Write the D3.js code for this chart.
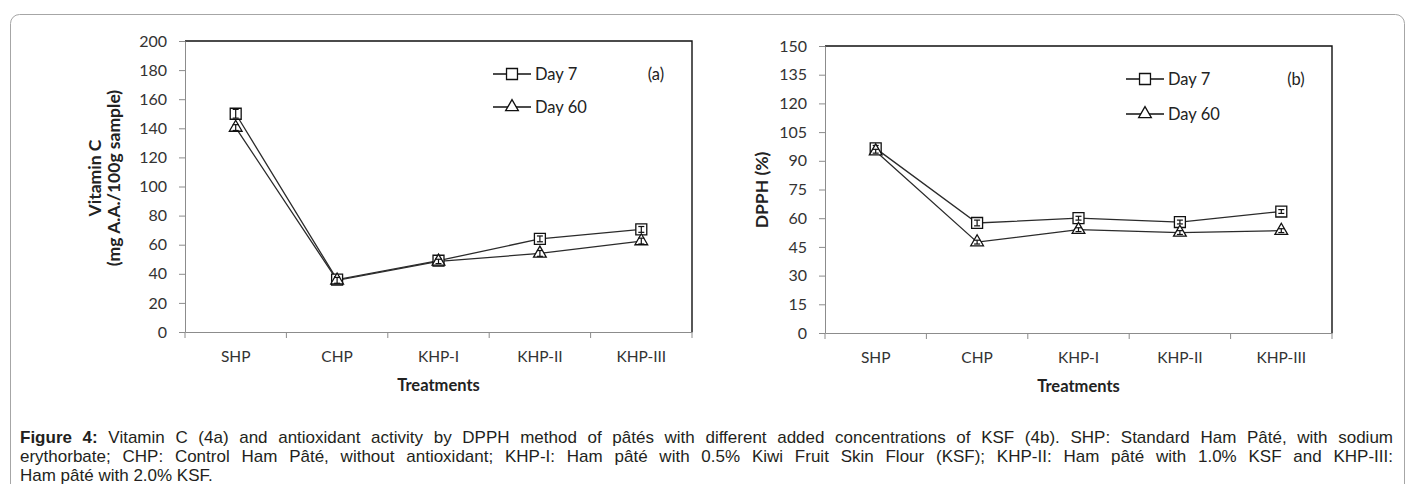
<!DOCTYPE html>
<html>
<head>
<meta charset="utf-8">
<script src="https://cdn.jsdelivr.net/npm/d3@7"></script>
<style>
body { margin: 0; background: #fff; width: 1414px; height: 484px; overflow: hidden; position: relative; }
svg { position: absolute; left: 0; top: 0; }
.cap { position: absolute; left: 20px; top: 427.5px; width: 1373px; font-family: "Liberation Sans", Arial, sans-serif;
  font-size: 17px; line-height: 19px; color: #231f20; }
.cap div { text-align: justify; text-align-last: justify; white-space: nowrap; }
.cap div.last { text-align-last: left; }
</style>
</head>
<body>
<svg id="fig" width="1414" height="484"></svg>
<div class="cap" id="cap">
  <div><b>Figure 4:</b> Vitamin C (4a) and antioxidant activity by DPPH method of pâtés with different added concentrations of KSF (4b). SHP: Standard Ham Pâté, with sodium</div>
  <div>erythorbate; CHP: Control Ham Pâté, without antioxidant; KHP-I: Ham pâté with 0.5% Kiwi Fruit Skin Flour (KSF); KHP-II: Ham pâté with 1.0% KSF and KHP-III:</div>
  <div class="last">Ham pâté with 2.0% KSF.</div>
</div>
<script>
// treatments on the x axis
var categories = ["SHP", "CHP", "KHP-I", "KHP-II", "KHP-III"];
var seriesNames = ["Day 7", "Day 60"];

// (a) vitamin C, mg A.A./100g sample
var vitC_day7 = [150, 36, 49, 64, 70.5];
var vitC_day60 = [140.5, 35.5, 48.5, 54, 62.5];
var vitC_err7 = [3, 2, 1.5, 2, 2];
var vitC_err60 = [2, 2, 1.5, 2, 2];
var vitC_ticks = [0, 20, 40, 60, 80, 100, 120, 140, 160, 180, 200];

// (b) DPPH %
var dpph_day7 = [96.5, 57.5, 60, 58, 63.5];
var dpph_day60 = [95, 47.5, 54, 52.5, 53.5];
var dpph_err7 = [1.5, 1.5, 1, 1, 1];
var dpph_err60 = [1, 1, 1, 1, 1];
var dpph_ticks = [0, 15, 30, 45, 60, 75, 90, 105, 120, 135, 150];

var font = "Lato, 'Open Sans', sans-serif";
var svg = d3.select("#fig");

// outer frame
svg.append("rect")
  .attr("x", 10.5).attr("y", 14.5).attr("width", 1394).attr("height", 600)
  .attr("rx", 9).attr("fill", "none").attr("stroke", "#a6a6a6").attr("stroke-width", 1);

function drawPanel(o) {
  var g = svg.append("g");
  var x = d3.scaleBand().domain(categories).range([o.left, o.right]);
  var y = d3.scaleLinear().domain([0, o.ticks[o.ticks.length - 1]]).range([o.bottom, o.top]);
  var cx = function(c) { return x(c) + x.bandwidth() / 2; };

  // plot area border (top + right)
  g.append("path")
    .attr("d", "M" + o.left + "," + o.top + "H" + o.right + "V" + o.bottom)
    .attr("fill", "none").attr("stroke", "#111").attr("stroke-width", 1.4);

  // y axis
  var ya = g.append("g").attr("transform", "translate(" + o.left + ",0)")
    .call(d3.axisLeft(y).tickValues(o.ticks).tickSize(6).tickPadding(12).tickSizeOuter(0));
  ya.select(".domain").attr("stroke", "#8c8c8c");
  ya.selectAll(".tick line").attr("stroke", "#8c8c8c");
  ya.selectAll("text").attr("font-family", font).attr("font-size", 16).attr("fill", "#333");

  // x axis labels
  var xa = g.append("g").attr("transform", "translate(0," + o.bottom + ")")
    .call(d3.axisBottom(x).tickSize(0).tickPadding(19).tickSizeOuter(0));
  xa.select(".domain").attr("stroke", "#8c8c8c");
  xa.selectAll("text").attr("font-family", font).attr("font-size", 15.5).attr("fill", "#333");
  // boundary tick marks between categories
  var edges = categories.map(function(c) { return x(c); }).concat([o.right]);
  g.selectAll(".edge").data(edges).enter().append("line")
    .attr("x1", function(d) { return d; }).attr("x2", function(d) { return d; })
    .attr("y1", o.bottom).attr("y2", o.bottom + 6)
    .attr("stroke", "#8c8c8c");

  // axis titles
  g.append("text").attr("x", (o.left + o.right) / 2).attr("y", o.bottom + 59)
    .attr("text-anchor", "middle").attr("font-family", font).attr("font-weight", "bold")
    .attr("font-size", 16.5).attr("fill", "#222").text("Treatments");
  o.ytitle.forEach(function(t, i) {
    g.append("text")
      .attr("transform", "translate(" + o.ytitleX[i] + "," + o.ytitleY + ") rotate(-90)")
      .attr("dy", "0.35em").attr("text-anchor", "middle")
      .attr("font-family", font).attr("font-weight", "bold").attr("font-size", 17.5)
      .attr("fill", "#222").text(t);
  });

  var line = d3.line().x(function(d) { return cx(d.c); }).y(function(d) { return y(d.v); });
  var series = o.series.map(function(s, k) {
    return { name: seriesNames[k], symbol: k === 0 ? d3.symbolSquare : d3.symbolTriangle,
      size: k === 0 ? 120 : 70,
      pts: categories.map(function(c, i) { return { c: c, v: s[i], e: o.err[k][i] }; }) };
  });

  series.forEach(function(s) {
    g.append("path").datum(s.pts).attr("d", line)
      .attr("fill", "none").attr("stroke", "#2b2b2b").attr("stroke-width", 1.3);
  });
  series.forEach(function(s) {
    g.selectAll(null).data(s.pts).enter().append("path")
      .attr("transform", function(d) { return "translate(" + cx(d.c) + "," + y(d.v) + ")"; })
      .attr("d", d3.symbol(s.symbol, s.size))
      .attr("fill", "#fff").attr("stroke", "#111").attr("stroke-width", 1.3);
    // error bars
    var eb = g.selectAll(null).data(s.pts).enter().append("g").attr("stroke", "#111").attr("stroke-width", 1.2);
    eb.append("line")
      .attr("x1", function(d) { return cx(d.c); }).attr("x2", function(d) { return cx(d.c); })
      .attr("y1", function(d) { return y(d.v - d.e); }).attr("y2", function(d) { return y(d.v + d.e); });
    eb.append("line")
      .attr("x1", function(d) { return cx(d.c) - 3; }).attr("x2", function(d) { return cx(d.c) + 3; })
      .attr("y1", function(d) { return y(d.v + d.e); }).attr("y2", function(d) { return y(d.v + d.e); });
    eb.append("line")
      .attr("x1", function(d) { return cx(d.c) - 3; }).attr("x2", function(d) { return cx(d.c) + 3; })
      .attr("y1", function(d) { return y(d.v - d.e); }).attr("y2", function(d) { return y(d.v - d.e); });
  });

  // legend
  series.forEach(function(s, k) {
    var ly = o.legendY[k];
    g.append("line").attr("x1", o.legendX).attr("x2", o.legendX + 38)
      .attr("y1", ly).attr("y2", ly).attr("stroke", "#111").attr("stroke-width", 1.3);
    g.append("path").attr("transform", "translate(" + (o.legendX + 19) + "," + ly + ")")
      .attr("d", d3.symbol(s.symbol, s.size)).attr("fill", "#fff").attr("stroke", "#111").attr("stroke-width", 1.3);
    g.append("text").attr("x", o.legendX + 42).attr("y", ly).attr("dy", "0.35em")
      .attr("font-family", font).attr("font-size", 16.5).attr("fill", "#222").text(s.name);
  });
  g.append("text").attr("x", o.tagX).attr("y", o.legendY[0]).attr("dy", "0.35em")
    .attr("text-anchor", "middle").attr("font-family", font).attr("font-size", 16.5)
    .attr("fill", "#222").text(o.tag);
}

drawPanel({
  left: 185, right: 692, top: 41, bottom: 332,
  ticks: vitC_ticks, series: [vitC_day7, vitC_day60], err: [vitC_err7, vitC_err60],
  ytitle: ["Vitamin C", "(mg A.A./100g sample)"], ytitleX: [95, 114], ytitleY: 178,
  legendX: 493, legendY: [74, 107], tag: "(a)", tagX: 656
});

drawPanel({
  left: 825, right: 1332, top: 46, bottom: 333,
  ticks: dpph_ticks, series: [dpph_day7, dpph_day60], err: [dpph_err7, dpph_err60],
  ytitle: ["DPPH (%)"], ytitleX: [762], ytitleY: 190,
  legendX: 1126, legendY: [79, 114], tag: "(b)", tagX: 1296
});
</script>
</body>
</html>
